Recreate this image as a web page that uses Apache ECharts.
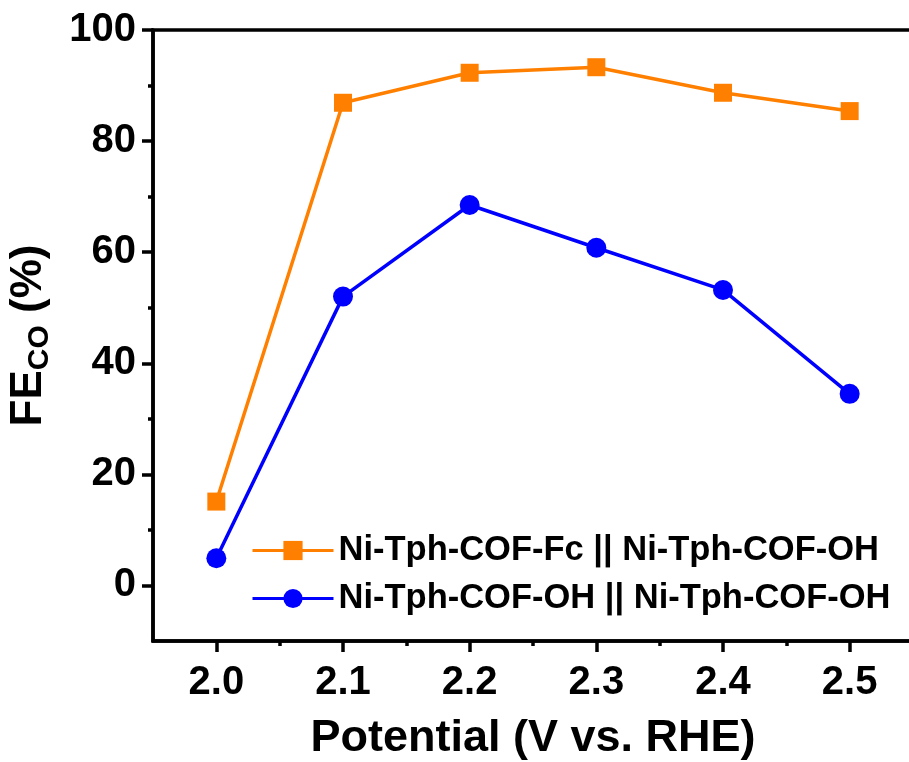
<!DOCTYPE html>
<html>
<head>
<meta charset="utf-8">
<script src="https://cdn.jsdelivr.net/npm/echarts@6/dist/echarts.min.js"></script>
<style>
  html, body { margin: 0; padding: 0; background: #fff; }
  #chart { width: 909px; height: 762px; }
</style>
</head>
<body>
<div id="chart"></div>
<script>
// potentials (V vs. RHE)
const potentials = [2.0, 2.1, 2.2, 2.3, 2.4, 2.5]
// FE_CO (%)
const feFc = [15.1, 86.9, 92.3, 93.3, 88.7, 85.4]
const feOh = [4.9, 52.0, 68.5, 60.8, 53.2, 34.5]
const seriesNames = ["Ni-Tph-COF-Fc || Ni-Tph-COF-OH", "Ni-Tph-COF-OH || Ni-Tph-COF-OH"]
// tick values
const xMajor = [2.0, 2.1, 2.2, 2.3, 2.4, 2.5]
const xMinor = [2.05, 2.15, 2.25, 2.35, 2.45]
const yMajor = [0, 20, 40, 60, 80, 100]
const yMinor = [10, 30, 50, 70, 90]

const FONT = "'Liberation Sans', Arial, Helvetica, sans-serif"
const tickLine = { width: 3.5, color: "#000" }

// an extra axis that only draws ticks at given values
function tickAxis(pos, min, max, values, len) {
  return {
    type: "value",
    min: min,
    max: max,
    position: pos,
    axisLine: { show: false, onZero: false },
    axisTick: { show: true, customValues: values, length: len, lineStyle: tickLine },
    axisLabel: { show: false },
    splitLine: { show: false }
  }
}

const chart = echarts.init(document.getElementById("chart"))
const option = {
  animation: false,
  backgroundColor: "#fff",
  // the frame gives the top line; its right side falls just outside the page
  grid: {
    show: true,
    left: 153, top: 30, right: -4, bottom: 121,
    outerBoundsMode: "none",
    containLabel: false,
    borderColor: "#000",
    borderWidth: 3.5
  },
  legend: {
    orient: "vertical",
    left: 246,
    top: 528,
    itemWidth: 81,
    itemHeight: 24,
    itemGap: 13,
    lineStyle: { width: 3 },
    textStyle: { fontFamily: FONT, fontWeight: "bold", fontSize: 34.5, color: "#000" },
    data: seriesNames
  },
  xAxis: [
    {
      type: "value",
      min: 1.95,
      max: 2.55,
      position: "bottom",
      axisLine: { show: true, onZero: false, lineStyle: { color: "#000", width: 3.5 } },
      axisTick: { show: true, customValues: xMajor, length: 11, lineStyle: tickLine },
      axisLabel: {
        customValues: xMajor,
        formatter: (v) => v.toFixed(1),
        margin: 22,
        fontFamily: FONT,
        fontWeight: "bold",
        fontSize: 40,
        color: "#000"
      },
      splitLine: { show: false },
      name: "Potential (V vs. RHE)",
      nameLocation: "middle",
      nameGap: 75,
      nameTextStyle: { fontFamily: FONT, fontWeight: "bold", fontSize: 45, color: "#000" }
    },
    tickAxis("bottom", 1.95, 2.55, xMajor, 11),
    tickAxis("bottom", 1.95, 2.55, xMinor, 5)
  ],
  yAxis: [
    {
      type: "value",
      min: -10,
      max: 100,
      position: "left",
      axisLine: { show: true, onZero: false, lineStyle: { color: "#000", width: 3.5 } },
      axisTick: { show: true, customValues: yMajor, length: 11, lineStyle: tickLine },
      axisLabel: {
        customValues: yMajor,
        margin: 17,
        fontFamily: FONT,
        fontWeight: "bold",
        fontSize: 40,
        color: "#000"
      },
      splitLine: { show: false },
      name: "{b|FE}{s|CO}{b| (%)}",
      nameLocation: "middle",
      nameGap: 98,
      nameTextStyle: {
        rich: {
          b: { fontFamily: FONT, fontWeight: "bold", fontSize: 44, color: "#000" },
          s: { fontFamily: FONT, fontWeight: "bold", fontSize: 30, color: "#000", verticalAlign: "bottom", padding: [22, 0, 0, 0] }
        }
      }
    },
    tickAxis("left", -10, 100, yMajor, 11),
    tickAxis("left", -10, 100, yMinor, 5)
  ],
  series: [
    {
      name: seriesNames[0],
      type: "line",
      xAxisIndex: 0,
      yAxisIndex: 0,
      symbol: "rect",
      symbolSize: 18,
      color: "#FF8000",
      lineStyle: { width: 3.5 },
      data: potentials.map((x, i) => [x, feFc[i]])
    },
    {
      name: seriesNames[1],
      type: "line",
      xAxisIndex: 0,
      yAxisIndex: 0,
      symbol: "circle",
      symbolSize: 20,
      color: "#0000FF",
      lineStyle: { width: 3.5 },
      data: potentials.map((x, i) => [x, feOh[i]])
    }
  ]
}
chart.setOption(option)
</script>
</body>
</html>
